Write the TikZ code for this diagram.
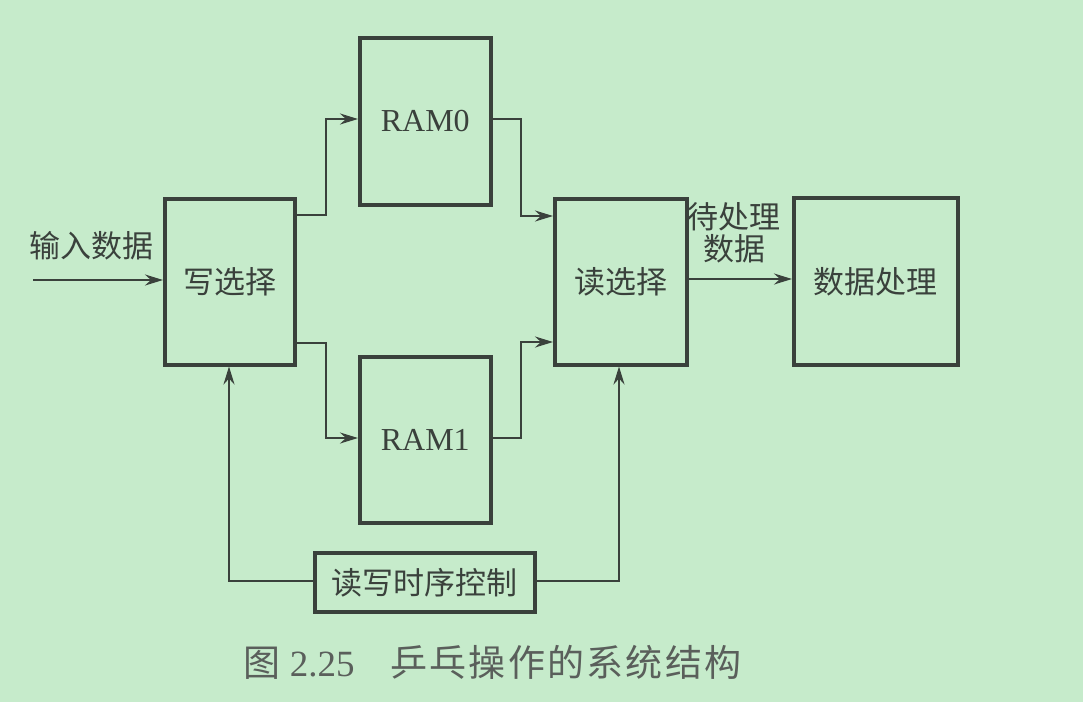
\documentclass[tikz,border=0pt]{standalone}
\usepackage{fontspec}
\setmainfont{Liberation Serif}
\newfontfamily\cjk{Noto Sans CJK SC}
\newfontfamily\cjkwide[LetterSpace=6]{Noto Sans CJK SC}
\usetikzlibrary{arrows.meta}
\definecolor{bg}{HTML}{C6EBCB}
\definecolor{ink}{HTML}{3A413C}
\definecolor{capink}{HTML}{5A5F5B}
\tikzset{
  blk/.style={draw=ink, line width=3.5pt, inner sep=0pt, anchor=north west},
  lbl/.style={text=ink, font=\cjk\fontsize{31}{36}\selectfont},
  wire/.style={draw=ink, line width=2.4pt,
    -{Stealth[length=18pt, width=11pt, inset=6pt]}},
}
\begin{document}
\begin{tikzpicture}[x=1pt, y=-1pt]
  \fill[bg] (0,0) rectangle (1083,702);
  \useasboundingbox (0,0) rectangle (1083,702);

  % blocks
  \node[blk, minimum width=130pt, minimum height=166pt] (ws) at (163,197) {};
  \node[lbl] at (ws.center) {写选择};
  \node[blk, minimum width=131pt, minimum height=167pt] (r0) at (358,36) {};
  \node[text=ink, font=\fontsize{32}{36}\selectfont] at (r0.center) {RAM0};
  \node[blk, minimum width=131pt, minimum height=166pt] (r1) at (358,355) {};
  \node[text=ink, font=\fontsize{32}{36}\selectfont] at (r1.center) {RAM1};
  \node[blk, minimum width=132pt, minimum height=166pt] (rs) at (553,197) {};
  \node[lbl] at (rs.center) {读选择};
  \node[blk, minimum width=164pt, minimum height=167pt] (dp) at (792,196) {};
  \node[lbl] at (dp.center) {数据处理};
  \node[blk, minimum width=220pt, minimum height=59pt] (ctl) at (313,551) {};
  \node[lbl] at (ctl.center) {读写时序控制};

  % input
  \coordinate (in) at (33,280);
  \draw[wire] (in) -- (ws.west |- in);
  \node[lbl] at (91,246) {输入数据};

  % write select to the two RAMs
  \draw[wire] (ws.east |- 0,215) -| (326,119) -- (r0.west |- 0,119);
  \draw[wire] (ws.east |- 0,343) -| (326,438) -- (r1.west |- 0,438);

  % RAMs to read select
  \draw[wire] (r0.east |- 0,119) -| (521,216) -- (rs.west |- 0,216);
  \draw[wire] (r1.east |- 0,438) -| (521,342) -- (rs.west |- 0,342);

  % read select to processing
  \draw[wire] (rs.east |- 0,279) -- (dp.west |- 0,279);
  \node[lbl, align=center] at (734,233) {待处理\\[-4pt]数据};

  % timing control
  \draw[wire] (ctl.west |- 0,581) -| (ws.south -| 229,0);
  \draw[wire] (ctl.east |- 0,581) -| (rs.south -| 619,0);

  % caption
  \node[text=capink, font=\fontsize{37}{40}\selectfont, anchor=west] at (240,662)
    {{\cjk 图} 2.25\hspace{36pt}{\cjkwide 乒乓操作的系统结构}};
\end{tikzpicture}
\end{document}
